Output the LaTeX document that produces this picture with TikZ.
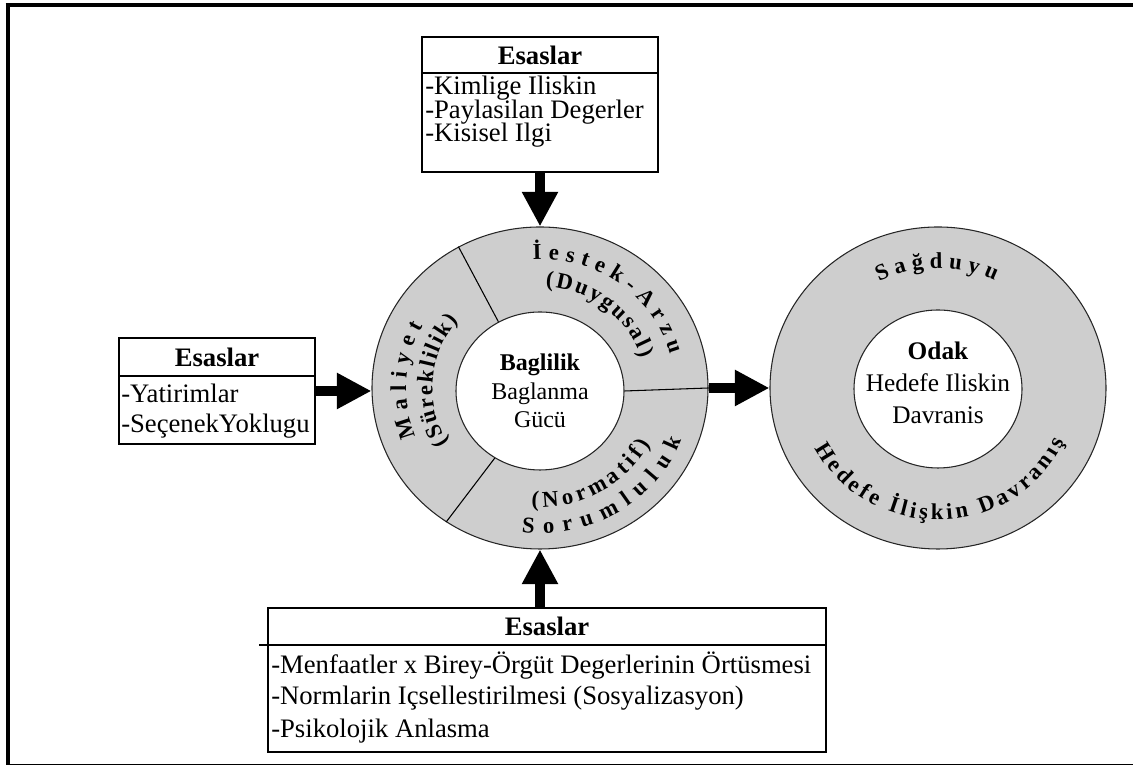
\documentclass[tikz,border=0pt]{standalone}
\usepackage{fontspec}
\setmainfont{Liberation Serif}
\usetikzlibrary{arrows.meta,shapes.geometric,decorations.text}
\definecolor{ringgray}{RGB}{206,206,206}
\begin{document}
\begin{tikzpicture}[x=0.75pt,y=0.75pt,
  framebox/.style={draw, line width=0.9pt, inner sep=0pt},
  headtext/.style={inner sep=0pt, font=\fontsize{20}{20}\selectfont\bfseries},
  itemtext/.style={anchor=base west, inner sep=0pt, font=\fontsize{20}{20}\selectfont},
  ringout/.style={ellipse, draw=black!85, line width=0.8pt, fill=ringgray, minimum width=252pt, minimum height=241.5pt, inner sep=0pt},
  ringin/.style={ellipse, draw=black!85, line width=0.8pt, fill=white, minimum width=126pt, minimum height=118.5pt, inner sep=0pt, align=center},
  divider/.style={draw, line width=0.8pt},
  bigarrow/.style={line width=7pt, -{Triangle[length=26pt,width=25.5pt]}},
  arctext/.style={decorate, decoration={text along path, text align={fit to path}, text={|\fontsize{17}{17}\selectfont\bfseries|#1}}},
]
\useasboundingbox (0,0) rectangle (1133,766);
% frame
\draw[line width=3pt] (5.5,761) -- (1133,761);
\draw[line width=3pt] (7.5,762.5) -- (7.5,0.5);
\draw[line width=1.1pt] (7.5,1.5) -- (1133,1.5);

% circles
\node[ringout] (lout) at (540,378) {};
\node[ringin, font=\fontsize{18}{21.5}\selectfont] (lin) at (540,375) {\textbf{Baglilik}\\Baglanma\\Gücü};
\node[ringout] (rout) at (938,378) {};
\node[ringin] (rin) at (938,377) {};
\node[align=center, font=\fontsize{19}{24}\selectfont, inner sep=0pt] (rtxt) at (938,383) {\textbf{Odak}\\Hedefe Iliskin\\Davranis};

% dividers
\draw[divider] (lin.0) -- (lout.0);
\draw[divider] (lin.121) -- (lout.120);
\draw[divider] (lin.236) -- (lout.235);

% curved texts, left ring
\path[arctext={İestek-Arzu}] ([shift={(93:101.1pt and 96.75pt)}]lout.center) arc[start angle=93, end angle=15, x radius=101.1pt, y radius=96.75pt];
\path[arctext={(Duygusal)}] ([shift={(87:79.5pt and 76pt)}]lout.center) arc[start angle=87, end angle=17, x radius=79.5pt, y radius=76pt];
\path[arctext={Maliyet}] ([shift={(202:100.4pt and 96pt)}]lout.center) arc[start angle=202, end angle=151, x radius=100.4pt, y radius=96pt];
\path[arctext={(Süreklilik)}] ([shift={(212:80.7pt and 77.25pt)}]lout.center) arc[start angle=212, end angle=139, x radius=80.7pt, y radius=77.25pt];
\path[arctext={Sorumluluk}] ([shift={(263:113.7pt and 108.75pt)}]lout.center) arc[start angle=263, end angle=339, x radius=113.7pt, y radius=108.75pt];
\path[arctext={(Normatif)}] ([shift={(266:93.3pt and 89.25pt)}]lout.center) arc[start angle=266, end angle=332, x radius=93.3pt, y radius=89.25pt];
% curved texts, right ring
\path[arctext={Sağduyu}] ([shift={(118:94.1pt and 90pt)}]rout.center) arc[start angle=118, end angle=63, x radius=94.1pt, y radius=90pt];
\path[arctext={Hedefe İlişkin Davranış}] ([shift={(207:103.5pt and 99pt)}]rout.center) arc[start angle=207, end angle=336, x radius=103.5pt, y radius=99pt];

% top box
\node[framebox, minimum width=177pt, minimum height=101.25pt] (tb) at (540,661.5) {};
\draw[line width=0.9pt] (tb.west |- 0,693) -- (tb.east |- 0,693);
\node[headtext] (th) at (540,711) {Esaslar};
\node[itemtext] (t1) at (425,671) {-Kimlige Iliskin};
\node[itemtext] (t2) at (425,647) {-Paylasilan Degerler};
\node[itemtext] (t3) at (425,624) {-Kisisel Ilgi};
\draw[bigarrow] (tb.south) -- (lout.north);

% left box
\node[framebox, minimum width=147pt, minimum height=79.5pt] (lb) at (217,375) {};
\draw[line width=0.9pt] (lb.west |- 0,390) -- (lb.east |- 0,390);
\node[headtext] (lh) at (217,409) {Esaslar};
\node[itemtext] (l1) at (121,363) {-Yatirimlar};
\node[itemtext] (l2) at (121,333) {-SeçenekYoklugu};
\draw[bigarrow] (lb.east) -- (lb.east -| lout.west);

% right arrow
\draw[bigarrow] (lout.east) -- (rout.west);

% bottom box
\node[framebox, minimum width=418.5pt, minimum height=108pt] (bb) at (547,86) {};
\draw[line width=0.9pt] (bb.west |- 0,121) ++(-8,0) -- (bb.east |- 0,121);
\node[headtext] (bh) at (547,140) {Esaslar};
\node[itemtext] (b1) at (271,92) {-Menfaatler x Birey-Örgüt Degerlerinin Örtüsmesi};
\node[itemtext] (b2) at (271,61) {-Normlarin Içsellestirilmesi (Sosyalizasyon)};
\node[itemtext] (b3) at (271,28) {-Psikolojik Anlasma};
\draw[bigarrow] (lout.south |- bb.north) -- (lout.south);
\end{tikzpicture}
\end{document}
